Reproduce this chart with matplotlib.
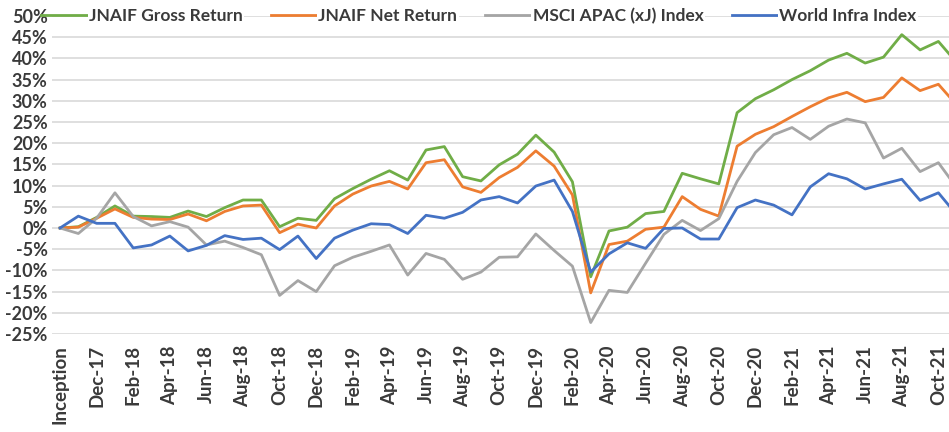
import matplotlib
matplotlib.use("Agg")
import matplotlib.pyplot as plt
from matplotlib.ticker import MultipleLocator, FuncFormatter

# monthly cumulative returns (%), Inception = Oct-17
months = ['Inception', 'Nov-17', 'Dec-17', 'Jan-18', 'Feb-18', 'Mar-18', 'Apr-18', 'May-18',
          'Jun-18', 'Jul-18', 'Aug-18', 'Sep-18', 'Oct-18', 'Nov-18', 'Dec-18', 'Jan-19',
          'Feb-19', 'Mar-19', 'Apr-19', 'May-19', 'Jun-19', 'Jul-19', 'Aug-19', 'Sep-19',
          'Oct-19', 'Nov-19', 'Dec-19', 'Jan-20', 'Feb-20', 'Mar-20', 'Apr-20', 'May-20',
          'Jun-20', 'Jul-20', 'Aug-20', 'Sep-20', 'Oct-20', 'Nov-20', 'Dec-20', 'Jan-21',
          'Feb-21', 'Mar-21', 'Apr-21', 'May-21', 'Jun-21', 'Jul-21', 'Aug-21', 'Sep-21',
          'Oct-21', 'Nov-21']

gross = [0, 0.3, 2.5, 5.2, 2.8, 2.7, 2.5, 4.0, 2.7, 4.8, 6.6, 6.6, 0.3, 2.3, 1.8, 6.9,
         9.3, 11.5, 13.5, 11.3, 18.4, 19.2, 12.1, 11.1, 14.9, 17.4, 21.9, 17.9, 10.9, -11.5,
         -0.7, 0.2, 3.4, 3.9, 12.9, 11.6, 10.4, 27.2, 30.5, 32.6, 35.0, 37.1, 39.6, 41.2,
         38.9, 40.3, 45.6, 42.0, 44.0, 39.0]

net = [0, 0.2, 2.3, 4.5, 2.5, 2.1, 2.0, 3.3, 1.7, 3.9, 5.2, 5.4, -1.1, 0.9, 0.0, 5.2,
       8.0, 9.9, 11.0, 9.2, 15.4, 16.1, 9.7, 8.4, 11.9, 14.3, 18.2, 14.6, 7.8, -15.3,
       -3.9, -3.1, -0.3, 0.2, 7.4, 4.4, 2.8, 19.3, 22.1, 23.9, 26.3, 28.6, 30.7, 32.0,
       29.8, 30.8, 35.4, 32.4, 33.9, 29.0]

msci = [0, -1.3, 2.3, 8.3, 2.7, 0.5, 1.5, 0.2, -4.0, -3.1, -4.6, -6.3, -15.9, -12.4, -15.0, -8.9,
        -6.9, -5.5, -4.0, -11.1, -6.0, -7.4, -12.1, -10.4, -6.9, -6.8, -1.4, -5.3, -9.0, -22.3,
        -14.7, -15.2, -8.3, -1.5, 1.8, -0.6, 2.2, 11.0, 17.8, 22.0, 23.7, 20.9, 24.0, 25.7,
        24.8, 16.5, 18.8, 13.3, 15.4, 9.5]

infra = [0, 2.8, 1.1, 1.1, -4.7, -4.0, -1.9, -5.4, -4.1, -1.8, -2.7, -2.4, -5.1, -1.9, -7.2, -2.4,
         -0.5, 1.0, 0.8, -1.3, 3.0, 2.3, 3.7, 6.6, 7.4, 5.9, 9.9, 11.3, 3.9, -10.4,
         -6.1, -3.5, -4.8, -0.1, 0.0, -2.6, -2.6, 4.8, 6.6, 5.4, 3.1, 9.7, 12.8, 11.6,
         9.2, 10.4, 11.5, 6.5, 8.3, 3.1]

series = [('JNAIF Gross Return', gross, '#70AD47'),
          ('JNAIF Net Return', net, '#ED7D31'),
          ('MSCI APAC (xJ) Index', msci, '#A5A5A5'),
          ('World Infra Index', infra, '#4472C4')]

plt.rcParams['font.family'] = ['Lato', 'DejaVu Sans']
plt.rcParams['font.weight'] = 'bold'
txt = '#3A3A3A'

fig = plt.figure(figsize=(9.49, 4.32), dpi=100)
ax = fig.add_axes([52 / 949, 1 - 334 / 432, 897 / 949, 318 / 432])

x = list(range(len(months)))
for name, vals, col in series:
    ax.plot(x, vals, color=col, lw=2.0, label=name, solid_joinstyle='round')

ax.set_ylim(-25, 50)
ax.set_xlim(-0.44, 48.58)
ax.yaxis.set_major_locator(MultipleLocator(5))
ax.yaxis.set_major_formatter(FuncFormatter(lambda v, p: f'{v:.0f}%'))
ax.grid(axis='y', color='#D9D9D9', lw=1.2)
ax.set_axisbelow(True)
for s in ax.spines.values():
    s.set_visible(False)

ax.set_xticks(x[::2])
ax.set_xticklabels(months[::2], rotation=90, fontsize=13.5, fontweight='bold', color=txt)
ax.tick_params(axis='x', length=0, pad=8)
ax.tick_params(axis='y', length=0, pad=3, labelsize=13, labelcolor=txt)

leg = fig.legend(loc='center', bbox_to_anchor=(479 / 949, 1 - 16 / 432), ncol=4,
                 frameon=False, fontsize=12.5, handlelength=2.6, handletextpad=0.15,
                 columnspacing=1.6)
for t in leg.get_texts():
    t.set_color(txt)
    t.set_fontweight('bold')
    t.set_bbox(dict(facecolor='white', edgecolor='none', pad=1))

fig.savefig('out.png', dpi=100)
